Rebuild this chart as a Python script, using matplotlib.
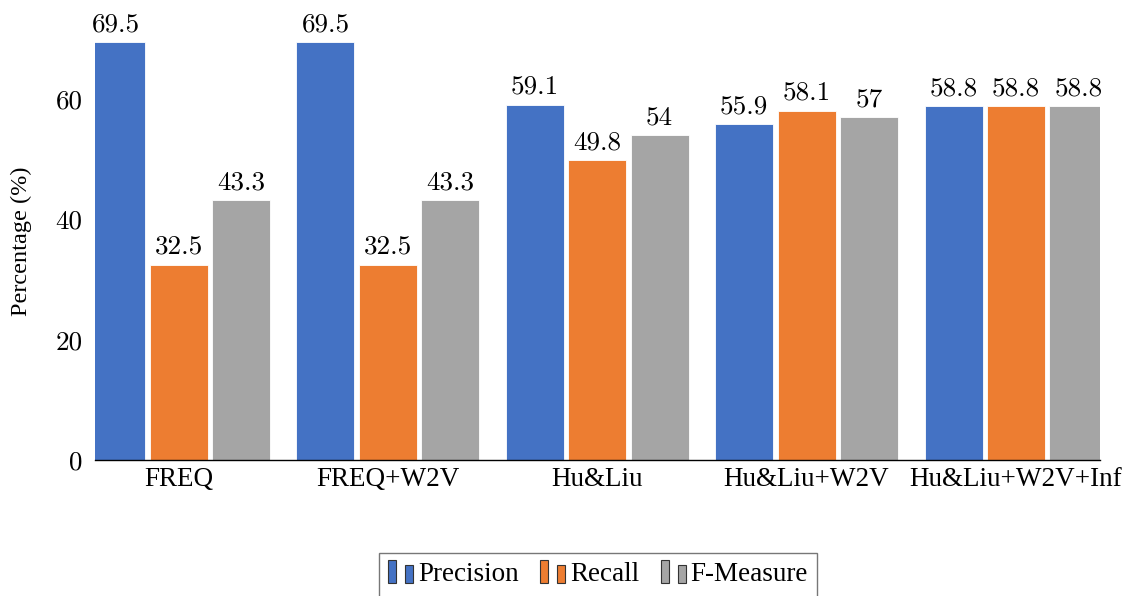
import matplotlib.pyplot as plt
import numpy as np
from matplotlib.legend_handler import HandlerBase
from matplotlib.patches import Rectangle

plt.rcParams['axes.unicode_minus'] = False
plt.rcParams['axes.formatter.use_mathtext'] = True

categories = ['FREQ', 'FREQ+W2V', 'Hu&Liu', 'Hu&Liu+W2V', 'Hu&Liu+W2V+Inf']
precision = [69.5, 69.5, 59.1, 55.9, 58.8]
recall = [32.5, 32.5, 49.8, 58.1, 58.8]
f_measure = [43.3, 43.3, 54, 57, 58.8]
series_names = ['Precision', 'Recall', 'F-Measure']
colors = ['#4472C4', '#ED7D31', '#A5A5A5']

CM = 'cmr10'
TIMES = 'Liberation Serif'


class TwoBarHandler(HandlerBase):
    # pgfplots-style ybar legend: two little bars
    def create_artists(self, legend, orig_handle, xdescent, ydescent,
                       width, height, fontsize, trans):
        fc = orig_handle.get_facecolor()
        w = width * 0.3
        h = height * 1.2
        y0 = -ydescent - height * 0.1
        r1 = Rectangle((-xdescent, y0), w, h, facecolor=fc,
                       edgecolor='#333333', lw=0.8, transform=trans)
        r2 = Rectangle((-xdescent + width * 0.62, y0), w, h * 0.8, facecolor=fc,
                       edgecolor='#333333', lw=0.8, transform=trans)
        return [r1, r2]


fig = plt.figure(figsize=(11.32, 5.96), dpi=100)
ax = fig.add_axes([0.0839, 0.2282, 0.8878, 0.7064])

x = np.arange(len(categories))
step = 0.298
width = 0.277
handles = []
for i, (vals, name, c) in enumerate(zip([precision, recall, f_measure], series_names, colors)):
    bars = ax.bar(x + (i - 1) * step, vals, width, color=c, edgecolor='white',
                  linewidth=0.6, label=name, zorder=2)
    ax.bar_label(bars, labels=[f'{v:g}' for v in vals], padding=4,
                 fontsize=19.5, family=CM)
    handles.append(bars.patches[0])

ax.set_xlim(-0.399, 4.401)
ax.set_ylim(0, 70)
ax.set_xticks(x)
ax.set_xticklabels(categories, fontsize=19.5, family=TIMES)
ax.set_yticks([0, 20, 40, 60])
ax.set_yticklabels(['0', '20', '40', '60'], fontsize=19.5, family=CM)
ax.tick_params(axis='both', length=0)
ax.tick_params(axis='y', pad=9)
ax.tick_params(axis='x', pad=5)

for s in ['top', 'right', 'left']:
    ax.spines[s].set_visible(False)
ax.spines['bottom'].set_color('black')
ax.spines['bottom'].set_linewidth(1.0)

ax.set_ylabel('Percentage (%)', fontsize=17.5, family=TIMES)
ax.yaxis.set_label_coords(-0.0627, 0.52)

fig.legend(handles, series_names, loc='upper center',
           bbox_to_anchor=(598 / 1132, 1 - 539 / 596), ncol=3,
           handler_map={Rectangle: TwoBarHandler()},
           prop={'family': TIMES, 'size': 19.5}, frameon=True, fancybox=False,
           edgecolor='#555555', handlelength=1.0, handletextpad=0.1,
           columnspacing=0.8, borderpad=0.35)

plt.savefig('out.png', dpi=100)
